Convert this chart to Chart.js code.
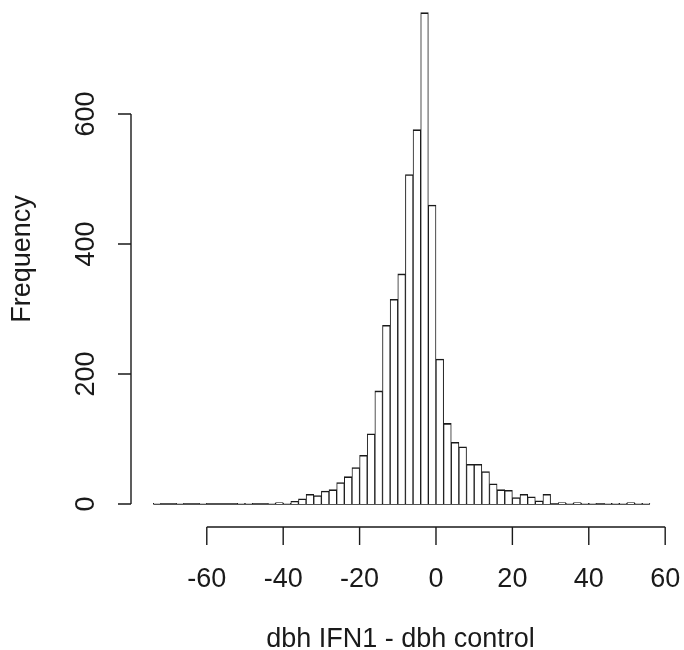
<!DOCTYPE html>
<html>
<head>
<meta charset="utf-8">
<title>Histogram dbh IFN1 - dbh control</title>
<script src="https://cdn.jsdelivr.net/npm/chart.js@4.4.1/dist/chart.umd.min.js"></script>
<style>
  html, body { margin: 0; padding: 0; background: #fff; }
  #wrap { width: 684px; height: 650px; }
</style>
</head>
<body>
<div id="wrap"><canvas id="histChart" width="684" height="650"></canvas></div>
<script>
// ===== 数据 =====
const binStart = -74;   // first break
const binWidth = 2;
const counts = [
  1, 0, 0, 1, 0, 0, 1, 0, 0, 0,
  0, 1, 1, 0, 0, 1, 2, 1, 4, 8,
  15, 13, 20, 22, 33, 42, 56, 75, 108, 174,
  275, 315, 354, 507, 576, 756, 460, 223, 124, 95,
  88, 61, 61, 50, 31, 22, 21, 10, 15, 11,
  5, 15, 0, 2, 1, 2, 1, 1, 0, 1,
  1, 1, 2, 1, 1
];
const xTicks = [-60, -40, -20, 0, 20, 40, 60];
const yTicks = [0, 200, 400, 600];
const xTitle = 'dbh IFN1 - dbh control';
const yTitle = 'Frequency';

(function() {
  'use strict';

  const FONT = '"Liberation Sans", Arial, Helvetica, sans-serif';
  const INK = '#1a1a1a';

  const bars = counts.map((c, i) => ({ x: binStart + binWidth * i + binWidth / 2, y: c }));
  const lastEdge = binStart + binWidth * counts.length;
  const baseline = [{ x: binStart, y: 0 }, { x: lastEdge, y: 0 }];

  // R 风格坐标轴（与绘图区分离）
  const rAxes = {
    id: 'rAxes',
    afterDraw(chart) {
      const { ctx, chartArea, scales } = chart;
      const xs = scales.x, ys = scales.y;
      ctx.save();
      ctx.strokeStyle = INK;
      ctx.fillStyle = INK;
      ctx.lineWidth = 1.4;

      // x 轴
      const ay = chartArea.bottom;
      ctx.beginPath();
      ctx.moveTo(xs.getPixelForValue(xTicks[0]), ay);
      ctx.lineTo(xs.getPixelForValue(xTicks[xTicks.length - 1]), ay);
      xTicks.forEach(v => {
        const px = xs.getPixelForValue(v);
        ctx.moveTo(px, ay);
        ctx.lineTo(px, ay + 18);
      });
      ctx.stroke();
      ctx.font = '27px ' + FONT;
      ctx.textAlign = 'center';
      ctx.textBaseline = 'middle';
      xTicks.forEach(v => ctx.fillText(String(v), xs.getPixelForValue(v), 580));
      ctx.fillText(xTitle, (chartArea.left + chartArea.right) / 2, 640);

      // y 轴
      const ax = chartArea.left;
      ctx.beginPath();
      ctx.moveTo(ax, ys.getPixelForValue(yTicks[0]));
      ctx.lineTo(ax, ys.getPixelForValue(yTicks[yTicks.length - 1]));
      yTicks.forEach(v => {
        const py = ys.getPixelForValue(v);
        ctx.moveTo(ax, py);
        ctx.lineTo(ax - 13, py);
      });
      ctx.stroke();
      yTicks.forEach(v => {
        ctx.save();
        ctx.translate(87, ys.getPixelForValue(v));
        ctx.rotate(-Math.PI / 2);
        ctx.fillText(String(v), 0, 0);
        ctx.restore();
      });
      ctx.save();
      ctx.translate(23, 259);
      ctx.rotate(-Math.PI / 2);
      ctx.fillText(yTitle, 0, 0);
      ctx.restore();

      ctx.restore();
    }
  };

  const ctx = document.getElementById('histChart').getContext('2d');
  new Chart(ctx, {
    type: 'bar',
    data: {
      datasets: [{
        type: 'bar',
        data: bars,
        backgroundColor: '#ffffff',
        borderColor: INK,
        borderWidth: { top: 1.6, left: 1, right: 1, bottom: 0 },
        borderSkipped: false,
        barPercentage: 1,
        categoryPercentage: 1
      }, {
        type: 'line',
        data: baseline,
        borderColor: INK,
        borderWidth: 1.6,
        pointRadius: 0,
        fill: false
      }]
    },
    options: {
      responsive: false,
      animation: false,
      layout: { padding: { left: 131, right: 14, top: 0, bottom: 123 } },
      plugins: { legend: { display: false }, tooltip: { enabled: false } },
      scales: {
        x: { type: 'linear', display: false, offset: false, min: -79.84, max: 61.26 },
        y: { type: 'linear', display: false, min: -35.38, max: 775.4 }
      }
    },
    plugins: [rAxes]
  });
})();
</script>
</body>
</html>
